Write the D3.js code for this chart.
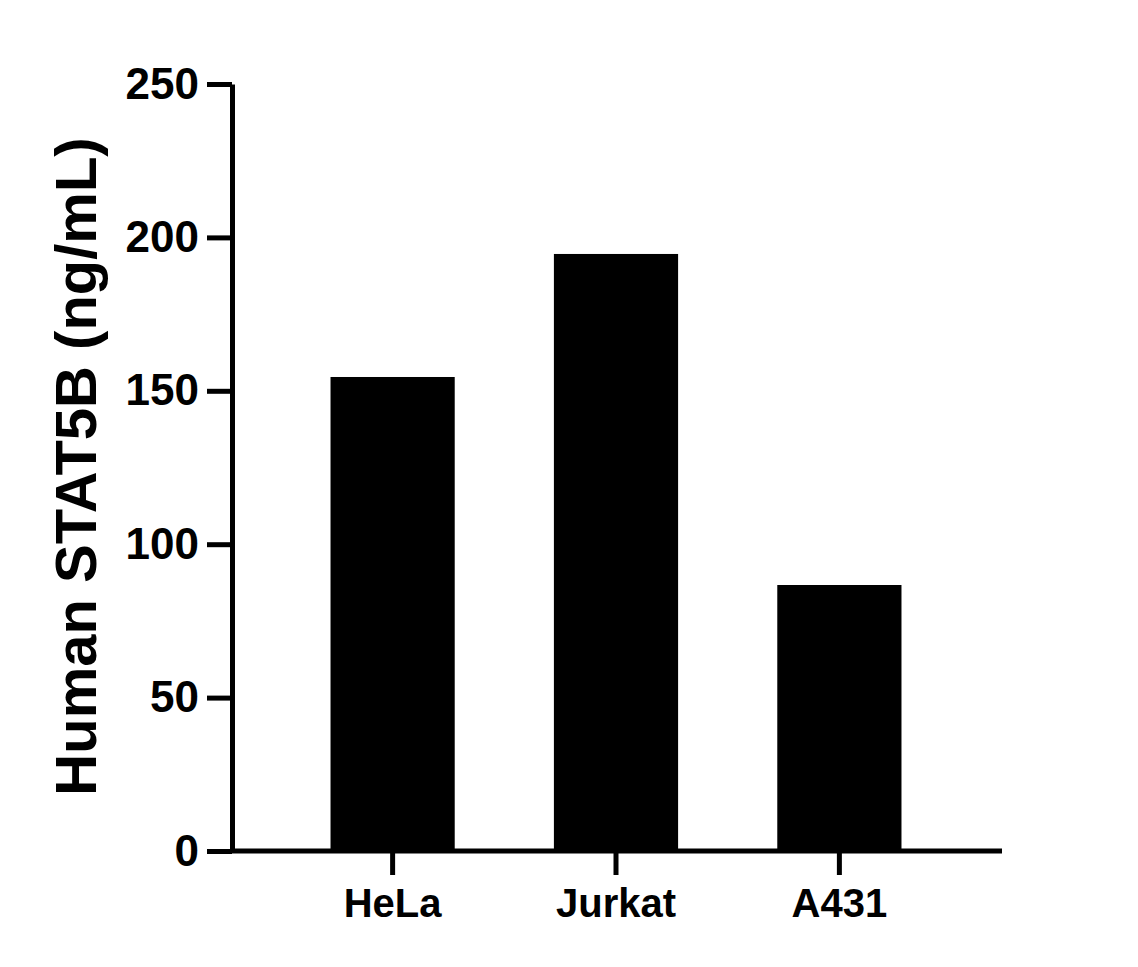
<!DOCTYPE html>
<html>
<head>
<meta charset="utf-8">
<script src="https://cdn.jsdelivr.net/npm/d3@7"></script>
<style>
  html, body { margin: 0; padding: 0; background: #fff; }
  svg { display: block; }
  text { font-family: "Liberation Sans", Arial, sans-serif; font-weight: bold; fill: #000; }
</style>
</head>
<body>
<svg id="chart" width="1138" height="967"></svg>
<script>
const categories = ["HeLa", "Jurkat", "A431"];
const values = [154.5, 194.6, 86.7];
const yTicks = [0, 50, 100, 150, 200, 250];
const yTitle = "Human STAT5B (ng/mL)";

(function () {
const svg = d3.select("#chart");
const mLeft = 232, mRight = 1002, mTop = 84, mBottom = 851;

const x = d3.scaleBand().domain(categories).range([mLeft - 2, mRight])
  .paddingInner(0.444).paddingOuter(0.45);
const y = d3.scaleLinear().domain([0, 250]).range([mBottom, mTop]);

svg.append("g").selectAll("rect").data(values).join("rect")
  .attr("x", (d, i) => x(categories[i]))
  .attr("width", x.bandwidth())
  .attr("y", d => y(d))
  .attr("height", d => y(0) - y(d))
  .attr("fill", "#000");

const yAxis = svg.append("g").attr("transform", `translate(${mLeft},0)`)
  .call(d3.axisLeft(y).tickValues(yTicks).tickSize(25).tickSizeOuter(0).tickPadding(8).tickFormat(d3.format("d")));
yAxis.selectAll("path, line").attr("stroke", "#000").attr("stroke-width", 5);
yAxis.selectAll("text").style("font-size", "44px").attr("fill", "#000");

const xAxis = svg.append("g").attr("transform", `translate(0,${mBottom})`)
  .call(d3.axisBottom(x).tickSize(24).tickSizeOuter(0).tickPadding(14));
xAxis.select("path").attr("d", `M${mLeft},0H${mRight}`);
xAxis.selectAll("path, line").attr("stroke", "#000").attr("stroke-width", 5);
xAxis.selectAll("text").style("font-size", "40px").attr("fill", "#000");

svg.append("text")
  .attr("transform", `translate(96,${(mTop + mBottom) / 2 - 1}) rotate(-90)`)
  .attr("text-anchor", "middle")
  .style("font-size", "58px")
  .text(yTitle);
})();
</script>
</body>
</html>
